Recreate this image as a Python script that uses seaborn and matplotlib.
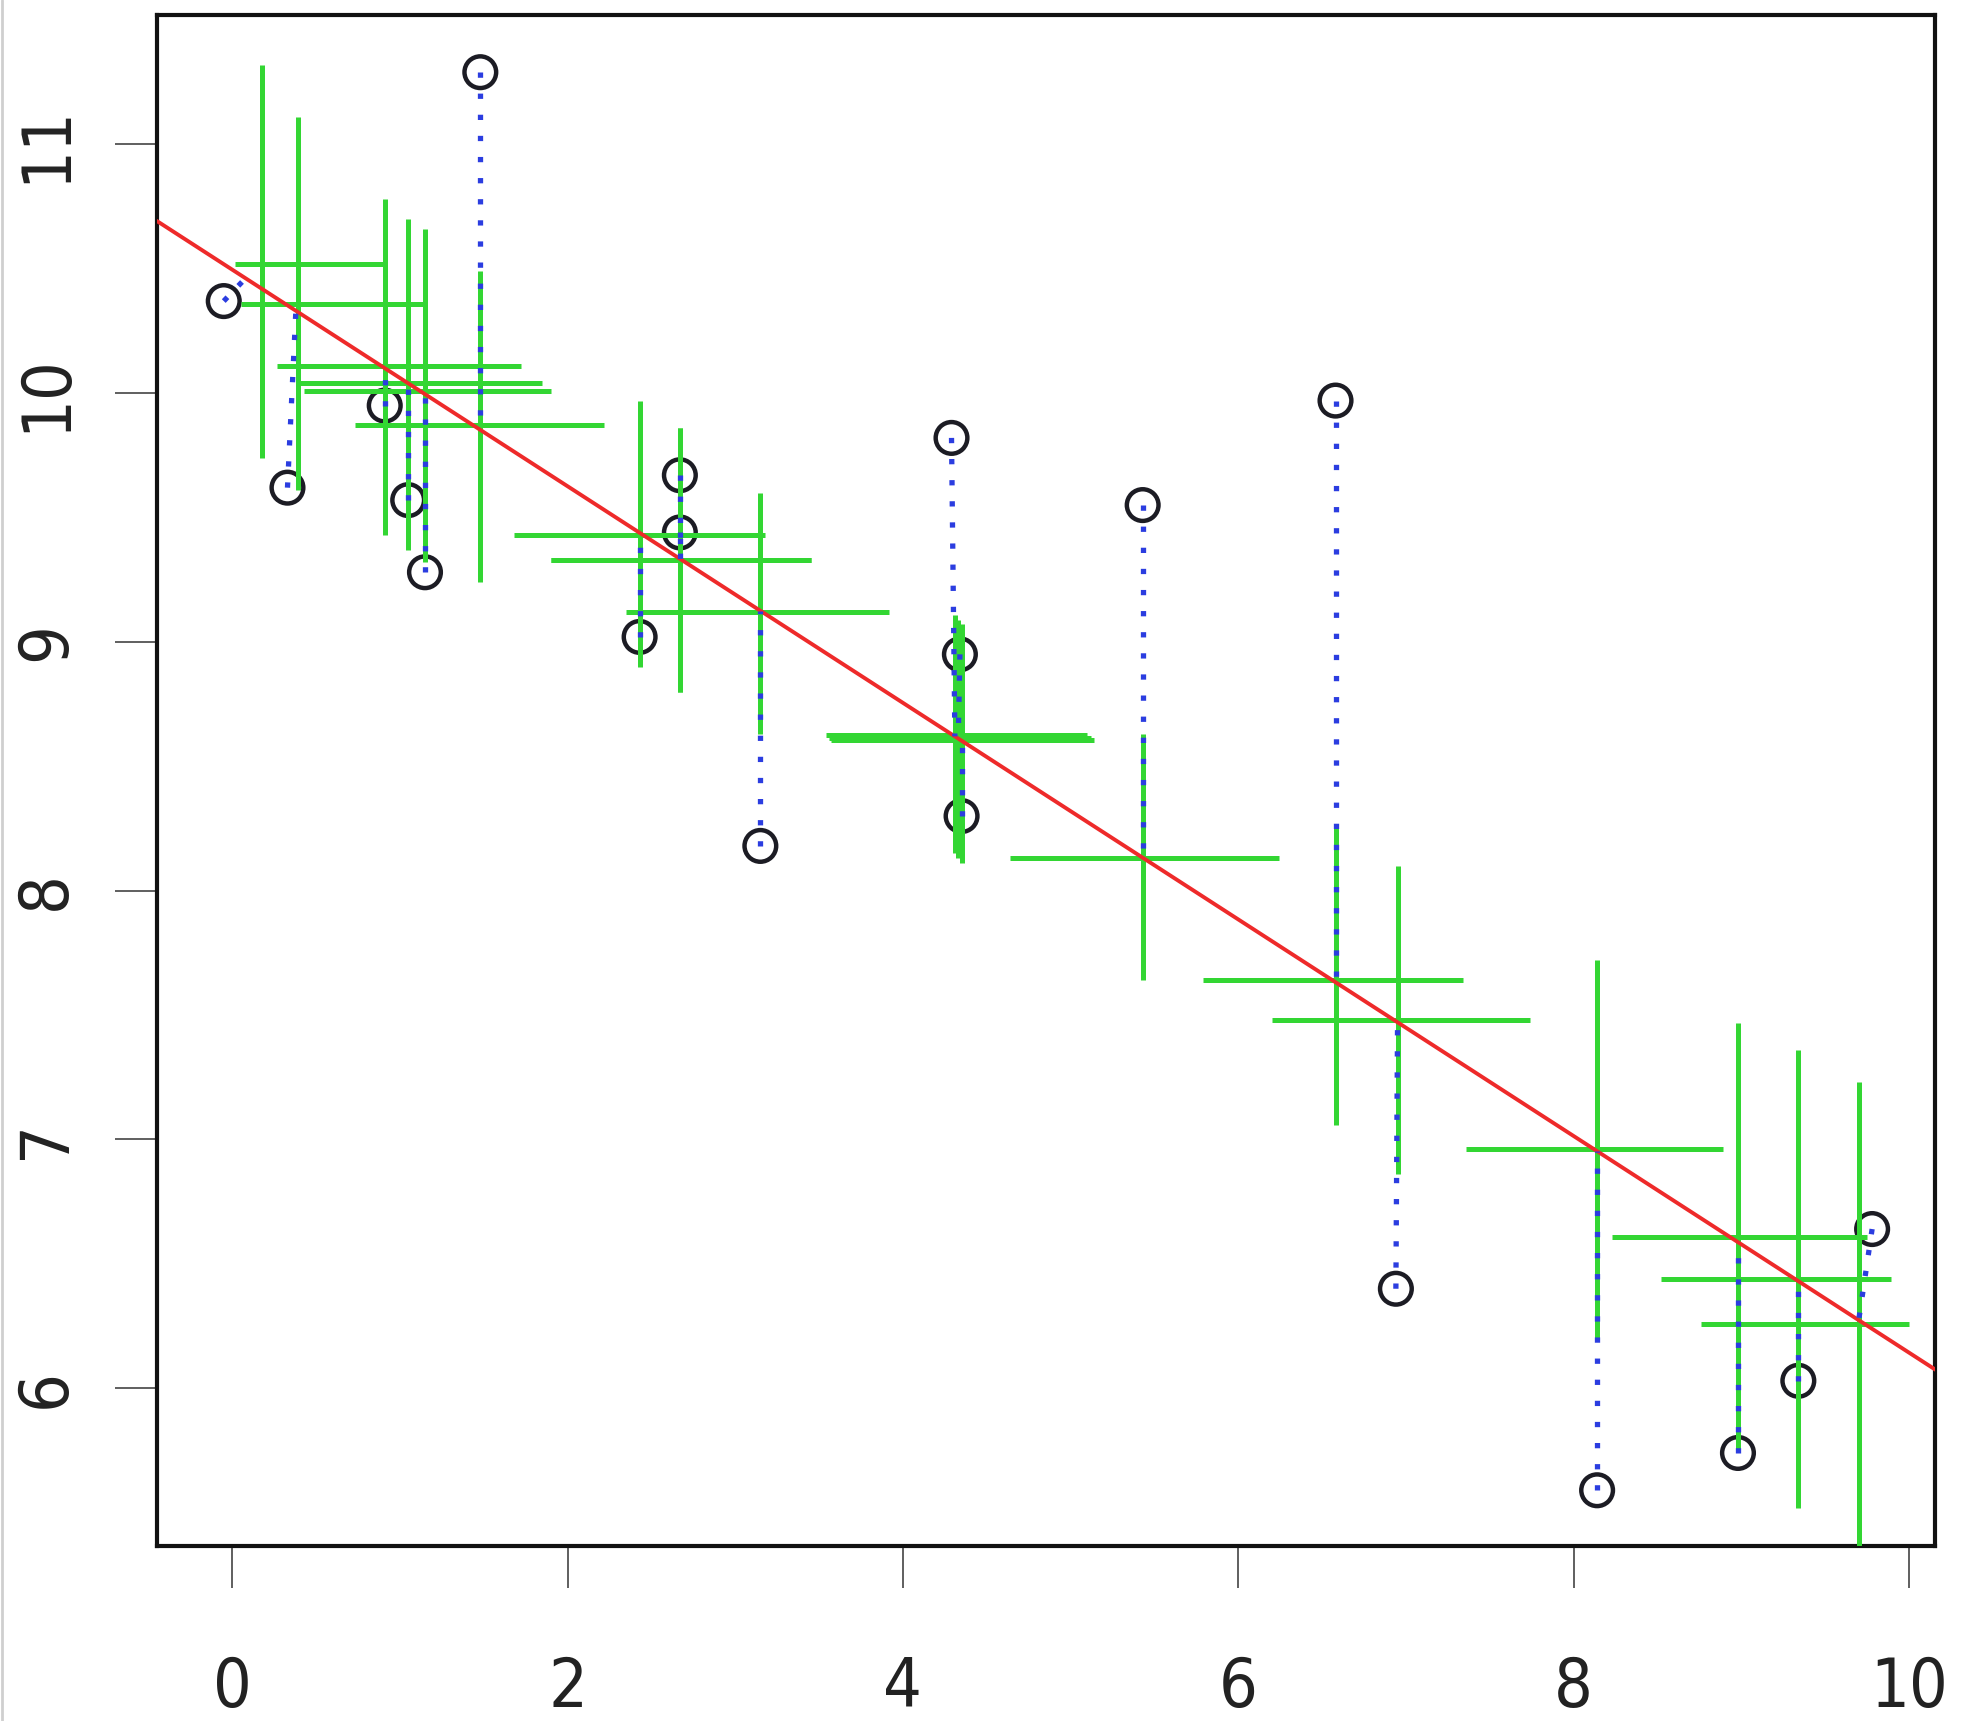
import numpy as np
import pandas as pd
import seaborn as sns
import matplotlib.pyplot as plt
from matplotlib import font_manager
from matplotlib.lines import Line2D

# observed points
x_obs = [-0.05, 0.33, 0.91, 1.05, 1.15, 1.48, 2.43, 2.67, 2.67, 3.15,
         4.29, 4.34, 4.35, 5.43, 6.58, 6.94, 8.14, 8.98, 9.34, 9.78]
y_obs = [10.37, 9.62, 9.95, 9.57, 9.28, 11.29, 9.02, 9.67, 9.44, 8.18,
         9.82, 8.95, 8.30, 9.55, 9.97, 6.40, 5.59, 5.74, 6.03, 6.64]

# x where each dotted residual meets the fitted line
resid_x = [0.08, 0.38, 0.91, 1.05, 1.15, 1.48, 2.43, 2.67, 2.67, 3.15,
           4.31, 4.33, 4.35, 5.43, 6.58, 6.95, 8.14, 8.98, 9.34, 9.70]

# cross centres
cross_x = [0.18, 0.39, 0.91, 1.05, 1.15, 1.48, 2.43, 2.67, 2.67, 3.15,
           4.31, 4.33, 4.35, 5.43, 6.58, 6.95, 8.14, 8.98, 9.34, 9.70]
cross_y = [10.52, 10.36, 10.11, 10.04, 10.01, 9.87, 9.43, 9.33, 9.33, 9.12,
           8.625, 8.615, 8.605, 8.13, 7.64, 7.48, 6.96, 6.61, 6.44, 6.26]

# horizontal bar extents (x)
hbar_lo = [0.02, 0.05, 0.27, 0.39, 0.43, 0.73, 1.68, 1.90, 1.90, 2.35,
           3.54, 3.56, 3.57, 4.64, 5.79, 6.20, 7.36, 8.23, 8.52, 8.76]
hbar_hi = [0.92, 1.16, 1.72, 1.85, 1.90, 2.22, 3.18, 3.45, 3.45, 3.92,
           5.10, 5.12, 5.14, 6.24, 7.34, 7.74, 8.89, 9.75, 9.89, 10.00]

# vertical bar extents (y)
vbar_lo = [9.74, 9.61, 9.43, 9.37, 9.32, 9.24, 8.90, 8.80, 8.80, 8.63,
           8.15, 8.13, 8.11, 7.64, 7.06, 6.86, 6.20, 5.75, 5.52, 5.29]
vbar_hi = [11.32, 11.11, 10.78, 10.70, 10.66, 10.49, 9.97, 9.86, 9.86, 9.60,
           9.11, 9.09, 9.07, 8.63, 8.25, 8.10, 7.72, 7.47, 7.36, 7.23]

x_ticks = [0, 2, 4, 6, 8, 10]
y_ticks = [6, 7, 8, 9, 10, 11]


def pick_font():
    # a narrow sans looks closest to the old R/Helvetica labels
    fl = font_manager.fontManager.ttflist
    for f in fl:
        if f.name == 'Liberation Sans Narrow' and f.weight in (400, 'normal', 'regular') and f.style == 'normal':
            return font_manager.FontProperties(fname=f.fname)
    for fam in ['Noto Sans', 'Open Sans', 'Roboto', 'DejaVu Sans']:
        for f in fl:
            if f.name == fam and f.style == 'normal' and str(f.stretch) in ('condensed', 'semi-condensed') \
                    and f.weight in (400, 'normal', 'regular'):
                return font_manager.FontProperties(fname=f.fname)
    return font_manager.FontProperties(family='Liberation Sans')


sns.set_style('white')
plt.rcParams['font.family'] = ['Liberation Sans', 'DejaVu Sans']
tick_font = pick_font()
tick_font.set_size(49)

df = pd.DataFrame({'x': x_obs, 'y': y_obs})
slope, icpt = np.polyfit(x_obs, y_obs, 1)

fig = plt.figure(figsize=(19.68, 17.21), dpi=100)
ax = fig.add_axes([0.0797, 0.1014, 0.9037, 0.8899])
ax.set_xlim(-0.449, 10.157)
ax.set_ylim(5.364, 11.52)

green = '#33d633'
# crosses
ax.hlines(cross_y, hbar_lo, hbar_hi, color=green, lw=3.6, zorder=3)
ax.vlines(cross_x, vbar_lo, vbar_hi, color=green, lw=3.6, zorder=3)

# fitted line across the whole axis
sns.regplot(x='x', y='y', data=df, ax=ax, scatter=False, ci=None, truncate=False,
            line_kws={'color': '#ee2a2a', 'lw': 2.8, 'zorder': 4})

# points
sns.scatterplot(x='x', y='y', data=df, ax=ax, marker='o', s=520,
                facecolor='none', edgecolor='#1c1c24', linewidth=3.2, zorder=2)

# dotted residuals to the fitted line
for xo, yo, xr in zip(x_obs, y_obs, resid_x):
    ax.plot([xo, xr], [yo, icpt + slope * xr], color='#2b3de0', lw=3.8,
            linestyle=(0, (1, 3.0)), zorder=5)

ax.set_xlim(-0.449, 10.157)
ax.set_ylim(5.364, 11.52)
ax.set_xticks(x_ticks)
ax.set_yticks(y_ticks)
ax.set_xlabel('')
ax.set_ylabel('')
for sp in ax.spines.values():
    sp.set_color('#111111')
    sp.set_linewidth(3.0)
ax.tick_params(axis='both', direction='out', length=30, width=1.2, color='#444444',
               bottom=True, left=True, labelcolor='#222222')
ax.tick_params(axis='x', pad=48)
ax.tick_params(axis='y', pad=26)
for lab in ax.get_xticklabels():
    lab.set_fontproperties(tick_font)
for lab in ax.get_yticklabels():
    lab.set_fontproperties(tick_font)
    lab.set_rotation(90)
    lab.set_va('center')

fig.add_artist(Line2D([0.001, 0.001], [0, 1], color='#cfcfcf', lw=2))

fig.savefig('out.png', dpi=100, facecolor='white')
